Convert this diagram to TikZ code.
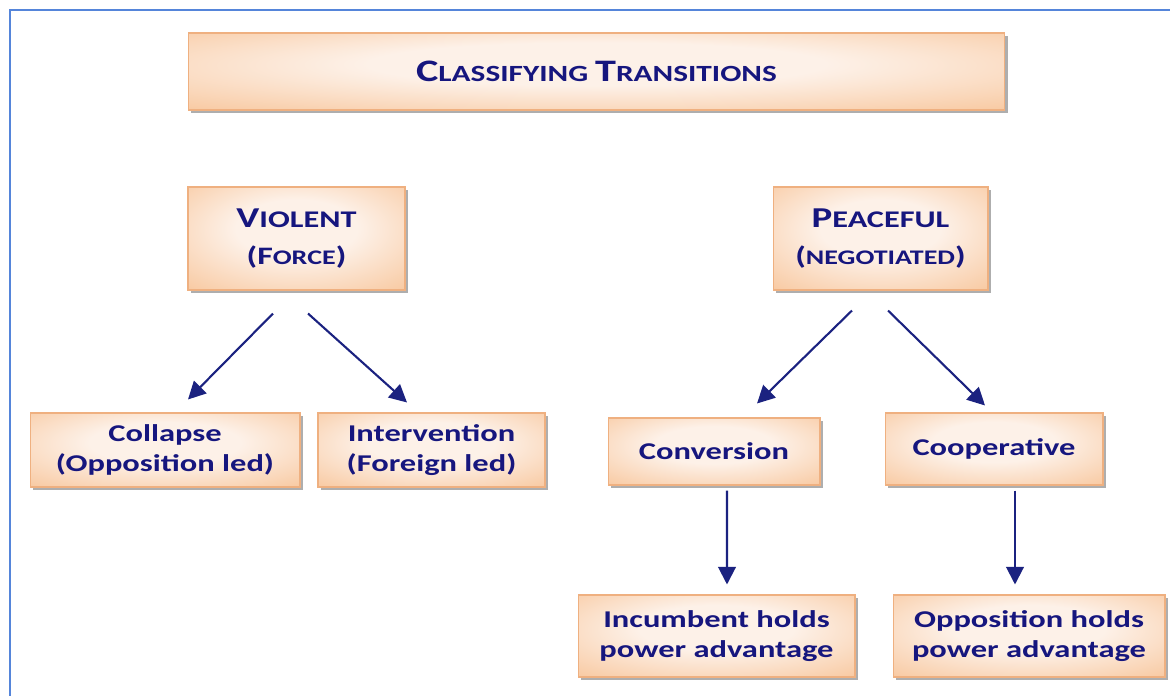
\documentclass[tikz,border=0pt]{standalone}
\usepackage{fontspec}
\setmainfont{Carlito}[FakeStretch=1.35]
\usetikzlibrary{arrows.meta,calc,shadows}
\definecolor{navyT}{HTML}{16167E}
\definecolor{arrowN}{HTML}{1B2280}
\definecolor{peachL}{HTML}{FDF1E8}
\definecolor{peachD}{HTML}{F6B883}
\definecolor{peachE}{HTML}{EFB080}
\definecolor{frameB}{HTML}{5585DA}
\pgfdeclareradialshading{peachglow}{\pgfpoint{0bp}{6bp}}{color(0bp)=(peachL); color(14bp)=(peachL); color(48bp)=(peachD); color(75bp)=(peachD)}
\newcommand\scw[4]{{\fontsize{#1}{#1}\selectfont #3}{\fontsize{#2}{#2}\selectfont #4}}

\begin{document}
\begin{tikzpicture}[x=0.02cm,y=-0.02cm,
  box/.style={draw=peachE,line width=0.6pt,shading=peachglow,
    drop shadow={shadow xshift=1.6pt,shadow yshift=-1.6pt,fill=black!45,opacity=0.7},
    text=navyT,align=center,inner sep=0pt},
  headbox/.style={box,font=\fontsize{13pt}{21pt}\selectfont\bfseries},
  leafbox/.style={box,font=\fontsize{13.7pt}{17.3pt}\selectfont\bfseries},
  flow/.style={-{Triangle[length=10pt,width=10pt]},line width=1.2pt,draw=arrowN}]
\useasboundingbox (0,0) rectangle (1170,696);
\draw[frameB,line width=1.6pt] (1170,10) -- (10,10) -- (10,696);

\node[headbox,minimum width=16.34cm,minimum height=1.54cm] (title) at (596.5,71.5)
  {\scw{17.8pt}{13.2pt}{C}{LASSIFYING} \scw{17.8pt}{13.2pt}{T}{RANSITIONS}};
\node[headbox,minimum width=4.34cm,minimum height=2.06cm] (viol) at (296.5,238.5)
  {\scw{16.4pt}{13.6pt}{V}{IOLENT}\\\scw{14.3pt}{11.8pt}{(F}{ORCE}{\fontsize{14.3pt}{14pt}\selectfont)}};
\node[headbox,minimum width=4.3cm,minimum height=2.06cm] (peace) at (880.5,238.5)
  {\scw{16.4pt}{13.6pt}{P}{EACEFUL}\\\scw{14.3pt}{11.8pt}{(}{NEGOTIATED}{\fontsize{14.3pt}{14pt}\selectfont)}};

\node[leafbox,minimum width=5.4cm,minimum height=1.48cm] (coll) at (165,450) {Collapse\\(Opposition led)};
\node[leafbox,minimum width=4.54cm,minimum height=1.48cm] (interv) at (431.5,450) {Intervention\\(Foreign led)};
\node[leafbox,minimum width=4.24cm,minimum height=1.34cm] (conv) at (714,451.5) {Conversion};
\node[leafbox,minimum width=4.36cm,minimum height=1.44cm] (coop) at (994,449) {Cooperative};
\node[leafbox,minimum width=5.54cm,minimum height=1.64cm] (inc) at (716.5,636) {Incumbent holds\\power advantage};
\node[leafbox,minimum width=5.44cm,minimum height=1.64cm] (opp) at (1029,636) {Opposition holds\\power advantage};

\draw[flow] ($(viol.south)+(-23.5,23)$) -- ($(coll.north)+(23,-13)$);
\draw[flow] ($(viol.south)+(11.5,23)$) -- ($(interv.north)+(-24.5,-10)$);
\draw[flow] ($(peace.south)+(-28.5,20)$) -- ($(conv.north)+(43,-14)$);
\draw[flow] ($(peace.south)+(7.5,20)$) -- ($(coop.north)+(-9,-7)$);
\draw[flow] ($(conv.south)+(13,5)$) -- ($(inc.north)+(10.5,-10)$);
\draw[flow] ($(coop.south)+(21,5)$) -- ($(opp.north)+(-14,-10)$);
\end{tikzpicture}
\end{document}
